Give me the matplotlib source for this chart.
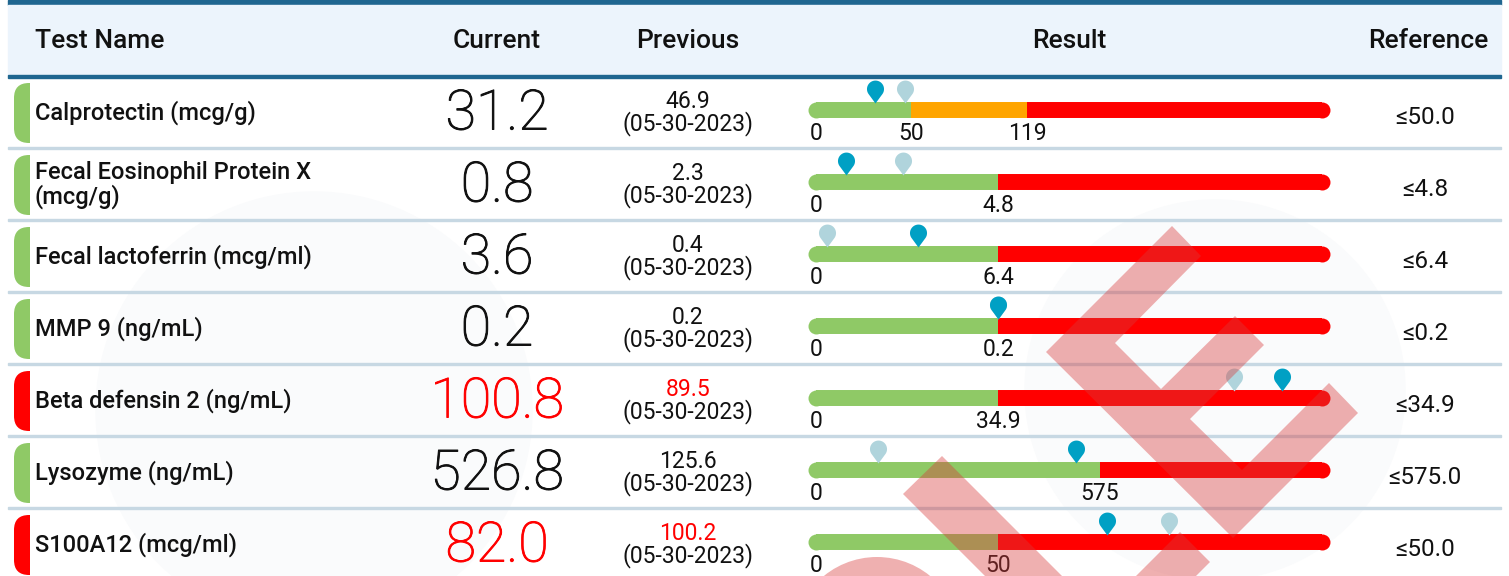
import numpy as np
import matplotlib.pyplot as plt
import matplotlib.patheffects as pe
from matplotlib.path import Path
from matplotlib.patches import Rectangle, FancyBboxPatch, Polygon, Circle

plt.rcParams['font.family'] = ['Roboto', 'DejaVu Sans']

# ---- data ----
tests = ["Calprotectin (mcg/g)", "Fecal Eosinophil Protein X\n(mcg/g)",
         "Fecal lactoferrin (mcg/ml)", "MMP 9 (ng/mL)", "Beta defensin 2 (ng/mL)",
         "Lysozyme (ng/mL)", "S100A12 (mcg/ml)"]
current = [31.2, 0.8, 3.6, 0.2, 100.8, 526.8, 82.0]
previous = [46.9, 2.3, 0.4, 0.2, 89.5, 125.6, 100.2]
prev_date = "05-30-2023"
current_high = [False, False, False, False, True, False, True]
previous_high = [False, False, False, False, True, False, True]
reference = ["≤50.0", "≤4.8", "≤6.4", "≤0.2", "≤34.9", "≤575.0", "≤50.0"]
cutoffs = [[50, 119], [4.8], [6.4], [0.2], [34.9], [575], [50]]
cutoff_labels = [["50", "119"], ["4.8"], ["6.4"], ["0.2"], ["34.9"], ["575"], ["50"]]
scale_max = [300, 13, 17, 0.55, 110, 1025, 145]
headers = ["Test Name", "Current", "Previous", "Result", "Reference"]

# ---- layout (pixels) ----
W, H = 1509, 576
cut_frac = [[0.187, 0.417], [0.36], [0.36], [0.36], [0.36], [0.561], [0.36]]
seg_colors = [['#8fc966', '#ffa500', '#ff0000']] + [['#8fc966', '#ff0000']] * 6
GREEN, RED = '#8fc966', '#ff0000'
PIN_CUR, PIN_PREV = '#00a0c4', '#b0d4dc'
TXT = '#111111'
ROW0, ROW_H = 77, 72
BAR_X0, BAR_X1 = 816, 1322

fig = plt.figure(figsize=(W / 100, H / 100), dpi=100)
ax = fig.add_axes([0, 0, 1, 1])
ax.set_xlim(0, W)
ax.set_ylim(H, 0)
ax.axis('off')

# faint logo circles in the background
ax.add_patch(Circle((314, 410), 218, color='#fafbfc', zorder=0))
ax.add_patch(Circle((1215, 390), 190, color='#fafbfc', zorder=0))

# header
ax.add_patch(Rectangle((8, 0), 1493, 5, color='#1f6690', zorder=1))
ax.add_patch(Rectangle((8, 5), 1493, 70, color='#ecf4fc', zorder=1))
ax.add_patch(Rectangle((8, 75), 1493, 2.5, color='#1f6690', zorder=2))
hx = [35, 497, 688, 1069, 1428]
for i, h in enumerate(headers):
    ax.text(hx[i], 41, h, ha='left' if i == 0 else 'center', va='center',
            fontsize=19, fontweight='medium', color=TXT, zorder=3)

# pin marker: tip at origin, round head above
r, c = 1.0, 1.69
a = np.arccos(r / c)
th = np.linspace(-np.pi / 2 + a, 3 * np.pi / 2 - a, 40)
verts = [(0, 0)] + [(r * np.cos(t), c + r * np.sin(t)) for t in th] + [(0, 0)]
pin = Path(verts, [Path.MOVETO] + [Path.LINETO] * (len(verts) - 2) + [Path.CLOSEPOLY])

for i in range(len(tests)):
    top = ROW0 + ROW_H * i
    # separator
    if i < len(tests) - 1:
        ax.add_patch(Rectangle((8, top + 70), 1493, 2.2, color='#c7d8e3', zorder=2))
    # flag pill
    col = RED if current_high[i] else GREEN
    pill = FancyBboxPatch((14, top + 6), 40, 60, boxstyle='round,pad=0,rounding_size=15',
                          color=col, zorder=2, lw=0)
    ax.add_patch(pill)
    clip = Rectangle((14, top), 16, ROW_H, transform=ax.transData)
    pill.set_clip_path(clip)

    ax.text(35, top + 36, tests[i], ha='left', va='center', fontsize=17,
            fontweight='medium', color=TXT, linespacing=1.0, zorder=3)
    vcol = RED if current_high[i] else TXT
    ax.text(497, top + 37, f"{current[i]:.1f}", ha='center', va='center', fontsize=40,
            fontweight='light', color=vcol, zorder=3,
            path_effects=[pe.withStroke(linewidth=0.7, foreground=vcol)])
    ax.text(688, top + 24, f"{previous[i]:.1f}", ha='center', va='center', fontsize=16.5,
            color=RED if previous_high[i] else TXT, zorder=3)
    ax.text(688, top + 47, f"({prev_date})", ha='center', va='center', fontsize=16.5,
            color=TXT, zorder=3)
    ax.text(1425, top + 40, reference[i], ha='center', va='center', fontsize=17.5,
            color=TXT, zorder=3)

    # result bar on its own axis with a piecewise scale
    vals = [0] + cutoffs[i] + [scale_max[i]]
    fracs = [0] + cut_frac[i] + [1]
    fwd = lambda x, v=vals, f=fracs: np.interp(x, v, f)
    inv = lambda y, v=vals, f=fracs: np.interp(y, f, v)
    bax = fig.add_axes([BAR_X0 / W, 1 - (top + ROW_H) / H, (BAR_X1 - BAR_X0) / W, ROW_H / H])
    bax.set_xscale('function', functions=(fwd, inv))
    bax.set_xlim(0, scale_max[i])
    bax.set_ylim(ROW_H, 0)
    bax.axis('off')
    bax.patch.set_alpha(0)
    bar_lw = 11.5
    for k in range(len(vals) - 1):
        bax.plot([vals[k], vals[k + 1]], [33, 33], color=seg_colors[i][k], lw=bar_lw,
                 solid_capstyle='butt', clip_on=False)
    bax.plot(0, 33, 'o', ms=bar_lw, color=seg_colors[i][0], mew=0, clip_on=False)
    bax.plot(scale_max[i], 33, 'o', ms=bar_lw, color=seg_colors[i][-1], mew=0, clip_on=False)
    for v, lab in zip([0] + cutoffs[i], ["0"] + cutoff_labels[i]):
        bax.text(v, 56, lab, ha='center', va='center', fontsize=16.5, color=TXT)
    bax.plot(previous[i], 25.5, marker=pin, ms=33, color=PIN_PREV, mew=0, clip_on=False)
    bax.plot(current[i], 25.5, marker=pin, ms=33, color=PIN_CUR, mew=0, clip_on=False)

# translucent watermark on top of everything
ov = fig.add_axes([0, 0, 1, 1], zorder=10)
ov.set_xlim(0, W)
ov.set_ylim(H, 0)
ov.axis('off')
ov.patch.set_alpha(0)
wm = dict(facecolor='#d93a3a', alpha=0.4, lw=0)
ov.add_patch(Polygon([(1172, 226), (1201, 256), (1115, 343), (1161, 389), (1235, 316),
                      (1264, 345), (1190, 419), (1242, 470), (1329, 383), (1358, 413),
                      (1233, 538), (1046, 352)], closed=True, **wm))
ov.add_patch(Polygon([(903, 494), (942, 456), (1062, 576), (985, 576)], closed=True, **wm))
ov.add_patch(Polygon([(1180, 532), (1210, 562), (1196, 576), (1136, 576)], closed=True, **wm))
ov.add_patch(Circle((877, 641), 84, **wm))

fig.savefig('out.png', dpi=100)
